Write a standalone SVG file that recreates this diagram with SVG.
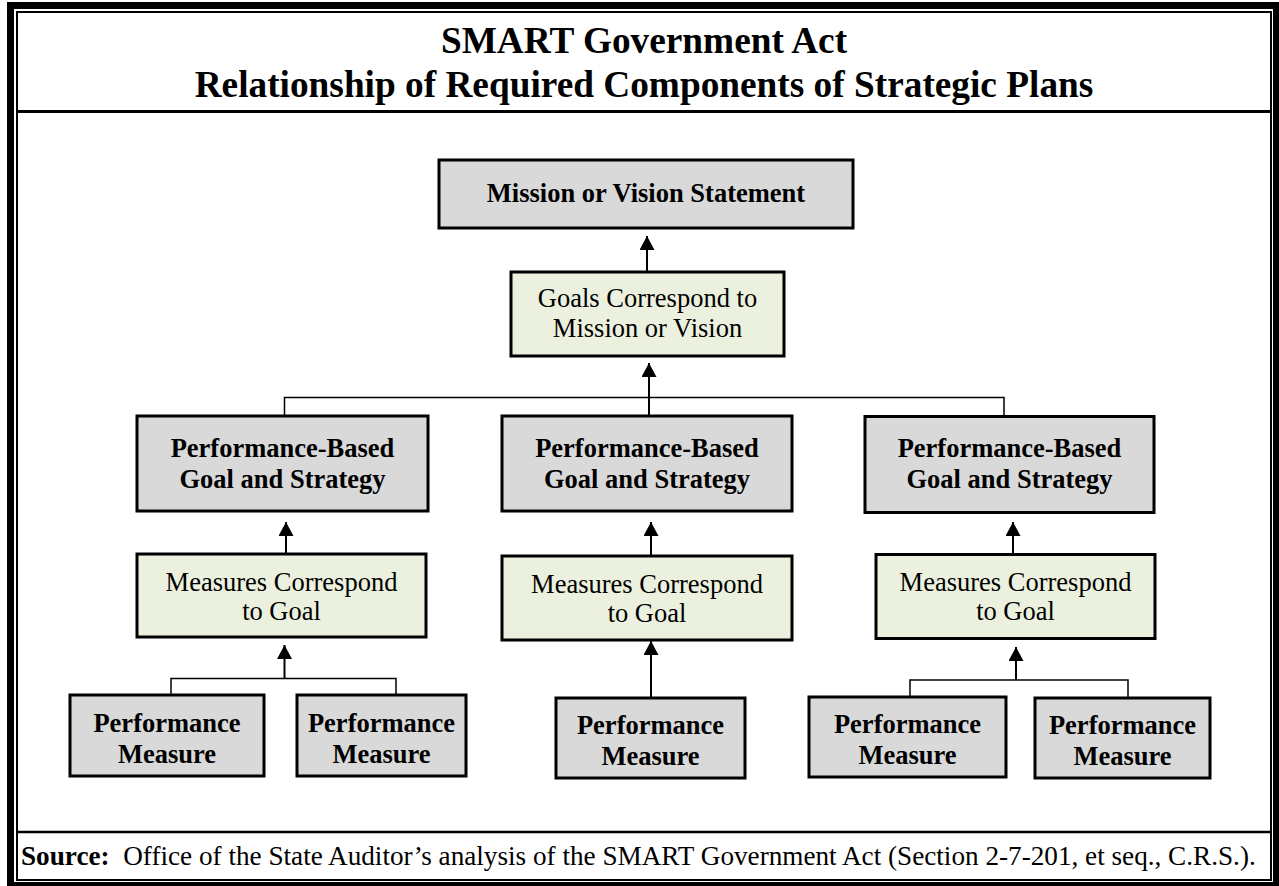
<svg xmlns="http://www.w3.org/2000/svg" width="1279" height="886" viewBox="0 0 1279 886">
  <style>
    .frame { fill: none; stroke: #000; }
    .box { stroke: #000; stroke-width: 3; }
    .grey { fill: #d9d9d9; }
    .green { fill: #ebf1de; }
    .t { font-family: "Liberation Serif", "Times New Roman", serif; font-size: 26.5px; fill: #000; text-anchor: middle; }
    .b { font-weight: bold; }
    .title { font-family: "Liberation Serif", "Times New Roman", serif; font-size: 37.3px; font-weight: bold; text-anchor: middle; fill: #000; }
    .src { font-family: "Liberation Serif", "Times New Roman", serif; font-size: 27.2px; fill: #000; }
    .arrow { fill: none; stroke: #000; stroke-width: 2; marker-end: url(#head); }
    .bracket { fill: none; stroke: #000; stroke-width: 1.5; }
  </style>
  <defs>
    <marker id="head" markerUnits="userSpaceOnUse" markerWidth="15" markerHeight="16" refX="14" refY="7.5" orient="auto">
      <path d="M0,0 L14,7.5 L0,15 z" fill="#000"/>
    </marker>
  </defs>

  <rect width="1279" height="886" fill="#fff"/>

  <!-- page frame: heavy outer rule, thin inner rule -->
  <rect class="frame" x="10.5" y="5.5" width="1266" height="880" stroke-width="7"/>
  <rect class="frame" x="17" y="12" width="1254" height="868" stroke-width="2"/>
  <line x1="17" y1="111.5" x2="1271" y2="111.5" stroke="#000" stroke-width="3"/>
  <line x1="17" y1="832" x2="1271" y2="832" stroke="#000" stroke-width="2.5"/>

  <!-- heading -->
  <g id="title">
    <text class="title" x="644" y="53">SMART Government Act</text>
    <text class="title" x="644" y="97">Relationship of Required Components of Strategic Plans</text>
  </g>

  <!-- connectors -->
  <g id="connectors">
    <line class="arrow" x1="647" y1="272" x2="647" y2="236"/>
    <path class="bracket" d="M284.5,416 V397.5 H1004 V416"/>
    <line class="arrow" x1="649" y1="416" x2="649" y2="363"/>
    <line class="arrow" x1="286" y1="554" x2="286" y2="522"/>
    <line class="arrow" x1="651" y1="556" x2="651" y2="522"/>
    <line class="arrow" x1="1013" y1="554" x2="1013" y2="522"/>
    <path class="bracket" d="M171,695 V678.5 H396 V695"/>
    <line class="arrow" x1="284.5" y1="678.5" x2="284.5" y2="645"/>
    <line class="arrow" x1="651" y1="698" x2="651" y2="641"/>
    <path class="bracket" d="M910,697 V680 H1128 V698"/>
    <line class="arrow" x1="1016" y1="680" x2="1016" y2="647"/>
  </g>

  <!-- top level -->
  <g id="mission">
    <rect class="box grey" x="439" y="160" width="414" height="68"/>
    <text class="t b" x="646" y="202">Mission or Vision Statement</text>
  </g>
  <g id="goals">
    <rect class="box green" x="511" y="272" width="273" height="84"/>
    <text class="t" x="647.5" y="307">Goals Correspond to</text>
    <text class="t" x="647.5" y="337">Mission or Vision</text>
  </g>

  <!-- goal and strategy level -->
  <g id="goal-left">
    <rect class="box grey" x="137" y="416" width="291" height="95"/>
    <text class="t b" x="282.5" y="457">Performance-Based</text>
    <text class="t b" x="282.5" y="488">Goal and Strategy</text>
  </g>
  <g id="goal-mid">
    <rect class="box grey" x="502" y="416" width="290" height="95"/>
    <text class="t b" x="647" y="457">Performance-Based</text>
    <text class="t b" x="647" y="488">Goal and Strategy</text>
  </g>
  <g id="goal-right">
    <rect class="box grey" x="865" y="416.5" width="289" height="96"/>
    <text class="t b" x="1009.5" y="457">Performance-Based</text>
    <text class="t b" x="1009.5" y="488">Goal and Strategy</text>
  </g>

  <!-- measures level -->
  <g id="measures-left">
    <rect class="box green" x="137" y="554" width="289" height="83"/>
    <text class="t" x="281.5" y="591">Measures Correspond</text>
    <text class="t" x="281.5" y="620">to Goal</text>
  </g>
  <g id="measures-mid">
    <rect class="box green" x="502" y="556" width="290" height="84"/>
    <text class="t" x="647" y="593">Measures Correspond</text>
    <text class="t" x="647" y="622">to Goal</text>
  </g>
  <g id="measures-right">
    <rect class="box green" x="876" y="554.5" width="279" height="84"/>
    <text class="t" x="1015.5" y="591">Measures Correspond</text>
    <text class="t" x="1015.5" y="620">to Goal</text>
  </g>

  <!-- individual performance measures -->
  <g id="pm-1">
    <rect class="box grey" x="70" y="695" width="194" height="81"/>
    <text class="t b" x="167" y="732">Performance</text>
    <text class="t b" x="167" y="763">Measure</text>
  </g>
  <g id="pm-2">
    <rect class="box grey" x="297" y="695" width="169" height="81"/>
    <text class="t b" x="381.5" y="732">Performance</text>
    <text class="t b" x="381.5" y="763">Measure</text>
  </g>
  <g id="pm-3">
    <rect class="box grey" x="556" y="698" width="189" height="80"/>
    <text class="t b" x="650.5" y="734">Performance</text>
    <text class="t b" x="650.5" y="765">Measure</text>
  </g>
  <g id="pm-4">
    <rect class="box grey" x="809" y="697" width="197" height="80"/>
    <text class="t b" x="907.5" y="733">Performance</text>
    <text class="t b" x="907.5" y="764">Measure</text>
  </g>
  <g id="pm-5">
    <rect class="box grey" x="1035" y="698" width="175" height="80"/>
    <text class="t b" x="1122.5" y="734">Performance</text>
    <text class="t b" x="1122.5" y="765">Measure</text>
  </g>

  <!-- footnote -->
  <g id="source">
    <text class="src" x="21" y="865"><tspan font-weight="bold">Source:</tspan>&#160; Office of the State Auditor’s analysis of the SMART Government Act (Section 2-7-201, et seq., C.R.S.).</text>
  </g>
</svg>
